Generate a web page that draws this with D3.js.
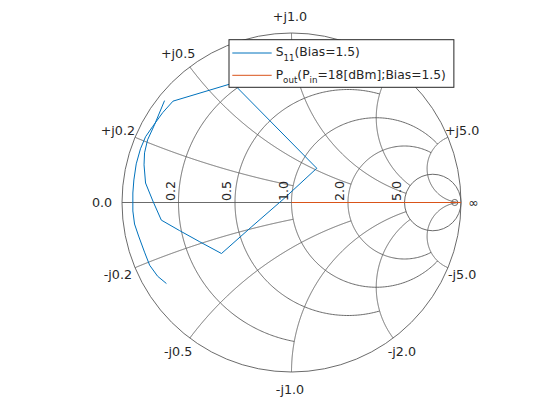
<!DOCTYPE html>
<html><head><meta charset="utf-8">
<script src="https://cdn.jsdelivr.net/npm/d3@7"></script>
<style>body{margin:0;background:#fff}svg{display:block}text{font-family:"DejaVu Sans",sans-serif;fill:#262626}</style>
</head><body><svg id="c" width="560" height="420"></svg>
<script>
// ---- data ----
const gridValues = [0.2, 0.5, 1, 2, 5];
const gridLimits = [1, 2, 5, 5, Infinity];
const realTickLabels = ["0.2", "0.5", "1.0", "2.0", "5.0"];
const posImagLabels = ["+j0.2", "+j0.5", "+j1.0", "+j2.0", "+j5.0"];
const negImagLabels = ["-j0.2", "-j0.5", "-j1.0", "-j2.0", "-j5.0"];
const zeroLabel = "0.0";
const infLabel = "\u221E";
// S11 reflection coefficient (real / imaginary parts)
const s11Re = [-0.738,-0.790,-0.837,-0.867,-0.902,-0.926,-0.936,-0.936,-0.930,-0.916,-0.891,-0.861,-0.820,-0.760,-0.699,-0.346,0.149,-0.050,-0.234,-0.413,-0.541,-0.660,-0.768,-0.818,-0.861,-0.870,-0.867,-0.849,-0.808,-0.749];
const s11Im = [-0.478,-0.435,-0.370,-0.293,-0.198,-0.127,-0.050,0.056,0.133,0.228,0.317,0.388,0.447,0.530,0.598,0.704,0.202,0.018,-0.142,-0.301,-0.232,-0.166,-0.104,0.009,0.115,0.222,0.293,0.370,0.459,0.601];
// Pout trace (reflection coefficient)
const poutRe = [0, 1];
const poutIm = [0, 0];
const seriesNames = [["S", "11", "(Bias=1.5)"], ["P", "out", "(P", "in", "=18[dBm];Bias=1.5)"]];
const seriesColors = ["#0072BD", "#D95319"];
const infRing = {re: 0.963, r: 0.018};

// ---- layout ----
const cx = 291.5, cy = 202.5, R = 169.5;
const svg = d3.select("#c");
const xs = d3.scaleLinear().domain([-1, 1]).range([cx - R, cx + R]);
const ys = d3.scaleLinear().domain([-1, 1]).range([cy + R, cy - R]);
const gridColor = "#5a5a5a";

function gamma(r, x) {
  const d = (r + 1) * (r + 1) + x * x;
  return [(r * r - 1 + x * x) / d, 2 * x / d];
}
const line = d3.line().x(d => xs(d[0])).y(d => ys(d[1]));
const N = 400;
const gGrid = svg.append("g").attr("fill", "none").attr("stroke", gridColor).attr("stroke-width", 0.9);

// outer circle & real axis
gGrid.append("circle").attr("cx", xs(0)).attr("cy", ys(0)).attr("r", xs(1) - xs(0));
gGrid.append("line").attr("x1", xs(-1)).attr("x2", xs(1)).attr("y1", ys(0)).attr("y2", ys(0));

gridValues.forEach((v, i) => {
  const L = gridLimits[i];
  const m = isFinite(L) ? L / (1 + L) : 0.99999;
  // resistance circle r = v, |x| <= L
  if (!isFinite(L)) {
    gGrid.append("circle").attr("cx", xs(v / (1 + v))).attr("cy", ys(0)).attr("r", xs(1 / (1 + v)) - xs(0));
  } else {
    const pts = d3.range(N + 1).map(k => {
      const w = -m + 2 * m * k / N;
      const x = w / (1 - Math.abs(w));
      return gamma(v, x);
    });
    gGrid.append("path").attr("d", line(pts));
  }
  // reactance arcs x = +-v, r <= L
  [1, -1].forEach(s => {
    const pts = d3.range(N + 1).map(k => {
      const u = m * k / N;
      const r = u / (1 - u);
      return gamma(r, s * v);
    });
    gGrid.append("path").attr("d", line(pts));
  });
});
gGrid.append("circle").attr("cx", xs(infRing.re)).attr("cy", ys(0)).attr("r", xs(infRing.r) - xs(0));

// ---- data series ----
const s11 = s11Re.map((r, i) => [r, s11Im[i]]);
const pout = poutRe.map((r, i) => [r, poutIm[i]]);
svg.append("path").attr("d", line(s11)).attr("fill", "none").attr("stroke", seriesColors[0]).attr("stroke-width", 1);
svg.append("path").attr("d", line(pout)).attr("fill", "none").attr("stroke", seriesColors[1]).attr("stroke-width", 1.2);

// ---- labels ----
const fs = 12.7;
const gLab = svg.append("g").attr("font-size", fs);
gridValues.forEach((v, i) => {
  const g0 = (v - 1) / (v + 1);
  const px = xs(g0) - 4, py = ys(0) - 1.5;
  gLab.append("text").attr("x", px).attr("y", py)
    .attr("transform", `rotate(-90,${px},${py})`).text(realTickLabels[i]);
});
const off = 17;
function edgeLabel(gm, txt, o) {
  const th = Math.atan2(gm[1], gm[0]);
  gLab.append("text")
    .attr("x", cx + (R + o) * Math.cos(th) - 1.5)
    .attr("y", cy - (R + o) * Math.sin(th))
    .attr("text-anchor", "middle").attr("dominant-baseline", "central").text(txt);
}
gridValues.forEach((v, i) => {
  edgeLabel(gamma(0, v), posImagLabels[i], off);
  edgeLabel(gamma(0, -v), negImagLabels[i], off);
});
edgeLabel([-1, 0], zeroLabel, off + 1.5);
edgeLabel([1, 0], infLabel, off - 3);

// ---- legend ----
const lfs = 12.3, sfs = 8.7;
const leg = svg.append("g");
const lx = 229, ly = 39.7, rowY = [53, 75.3];
const box = leg.append("rect").attr("fill", "#fff").attr("stroke", "#262626").attr("stroke-width", 1);
let maxW = 0;
seriesNames.forEach((parts, i) => {
  leg.append("line").attr("x1", lx + 3.3).attr("x2", lx + 42.7).attr("y1", rowY[i]).attr("y2", rowY[i])
    .attr("stroke", seriesColors[i]).attr("stroke-width", 1);
  const t = leg.append("text").attr("x", lx + 46.7).attr("y", rowY[i] + 3.4).attr("font-size", lfs);
  parts.forEach((p, k) => {
    const sub = k % 2 === 1;
    t.append("tspan").attr("font-size", sub ? sfs : lfs)
      .attr("dy", sub ? 4.5 : (k > 0 ? -4.5 : 0)).text(p);
  });
  maxW = Math.max(maxW, t.node().getComputedTextLength());
});
box.attr("x", lx).attr("y", ly).attr("width", 46.7 + maxW + 8).attr("height", 47.6);
</script></body></html>
